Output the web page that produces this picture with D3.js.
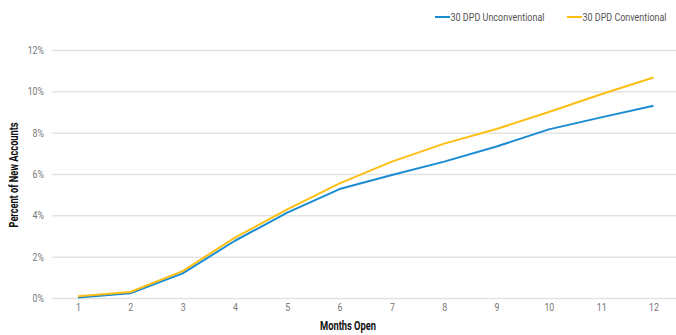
<!DOCTYPE html>
<html><head><meta charset="utf-8">
<script src="https://cdn.jsdelivr.net/npm/d3@7"></script>
<style>
html,body{margin:0;padding:0;background:#fff;}
svg text{font-family:"Roboto","Liberation Sans",sans-serif;}
</style>
</head><body>
<svg id="chart" width="676" height="335"></svg>
<script>
const months = [1,2,3,4,5,6,7,8,9,10,11,12];
const unconventional = [0.02,0.23,1.19,2.77,4.13,5.27,5.95,6.6,7.33,8.16,8.74,9.3];
const conventional   = [0.08,0.29,1.3,2.92,4.29,5.55,6.6,7.47,8.18,9.0,9.86,10.67];
const yTicks = [0,2,4,6,8,10,12];
const seriesNames = ["30 DPD Unconventional","30 DPD Conventional"];
const seriesColors = ["#1a8cd3","#fdbe14"];

const svg = d3.select("#chart");
const x = d3.scaleLinear().domain([1,12]).range([78,653.5]);
const y = d3.scaleLinear().domain([0,12]).range([298,50]);

function condense(sel, k){
  sel.each(function(){
    const w = this.getComputedTextLength();
    d3.select(this).attr("textLength", w*k).attr("lengthAdjust","spacingAndGlyphs");
  });
}

// gridlines
const yAxis = d3.axisLeft(y).tickValues(yTicks).tickSize(-(676-52)).tickPadding(8).tickFormat(d=>d+"%");
const gy = svg.append("g").attr("transform","translate(52,0)").call(yAxis);
gy.select(".domain").remove();
gy.selectAll(".tick line").attr("stroke","#e3e3e3").attr("stroke-width",1.5);
gy.selectAll(".tick text").attr("fill","#777").attr("font-size",11).attr("x",-8).call(condense,0.8);

// x axis
const xAxis = d3.axisBottom(x).tickValues(months).tickSize(0).tickPadding(5);
const gx = svg.append("g").attr("transform","translate(0,298)").call(xAxis);
gx.select(".domain").remove();
gx.selectAll(".tick text").attr("fill","#777").attr("font-size",11).call(condense,0.8);

// lines
const line = d3.line().x((d,i)=>x(months[i])).y(d=>y(d));
[unconventional, conventional].forEach((s,i)=>{
  svg.append("path").datum(s).attr("d",line).attr("fill","none")
    .attr("stroke",seriesColors[i]).attr("stroke-width",2).attr("stroke-linejoin","round");
});

// axis titles
svg.append("text").attr("x",348).attr("y",330).attr("text-anchor","middle")
  .attr("font-size",12).attr("font-weight","bold").attr("fill","#111").text("Months Open")
  .attr("textLength",56).attr("lengthAdjust","spacingAndGlyphs");
svg.append("text").attr("transform","translate(18,175) rotate(-90)").attr("text-anchor","middle")
  .attr("font-size",12).attr("font-weight","bold").attr("fill","#111").text("Percent of New Accounts")
  .attr("textLength",105).attr("lengthAdjust","spacingAndGlyphs");

// legend
const legX = [435,567];
const legW = [94,84];
seriesNames.forEach((n,i)=>{
  const g = svg.append("g").attr("transform",`translate(${legX[i]},17)`);
  g.append("line").attr("x1",0).attr("x2",15).attr("y1",0).attr("y2",0)
    .attr("stroke",seriesColors[i]).attr("stroke-width",2);
  g.append("text").attr("x",15.5).attr("y",4).attr("font-size",10).attr("fill","#555").text(n)
    .attr("textLength",legW[i]).attr("lengthAdjust","spacingAndGlyphs");
});
</script>
</body></html>
